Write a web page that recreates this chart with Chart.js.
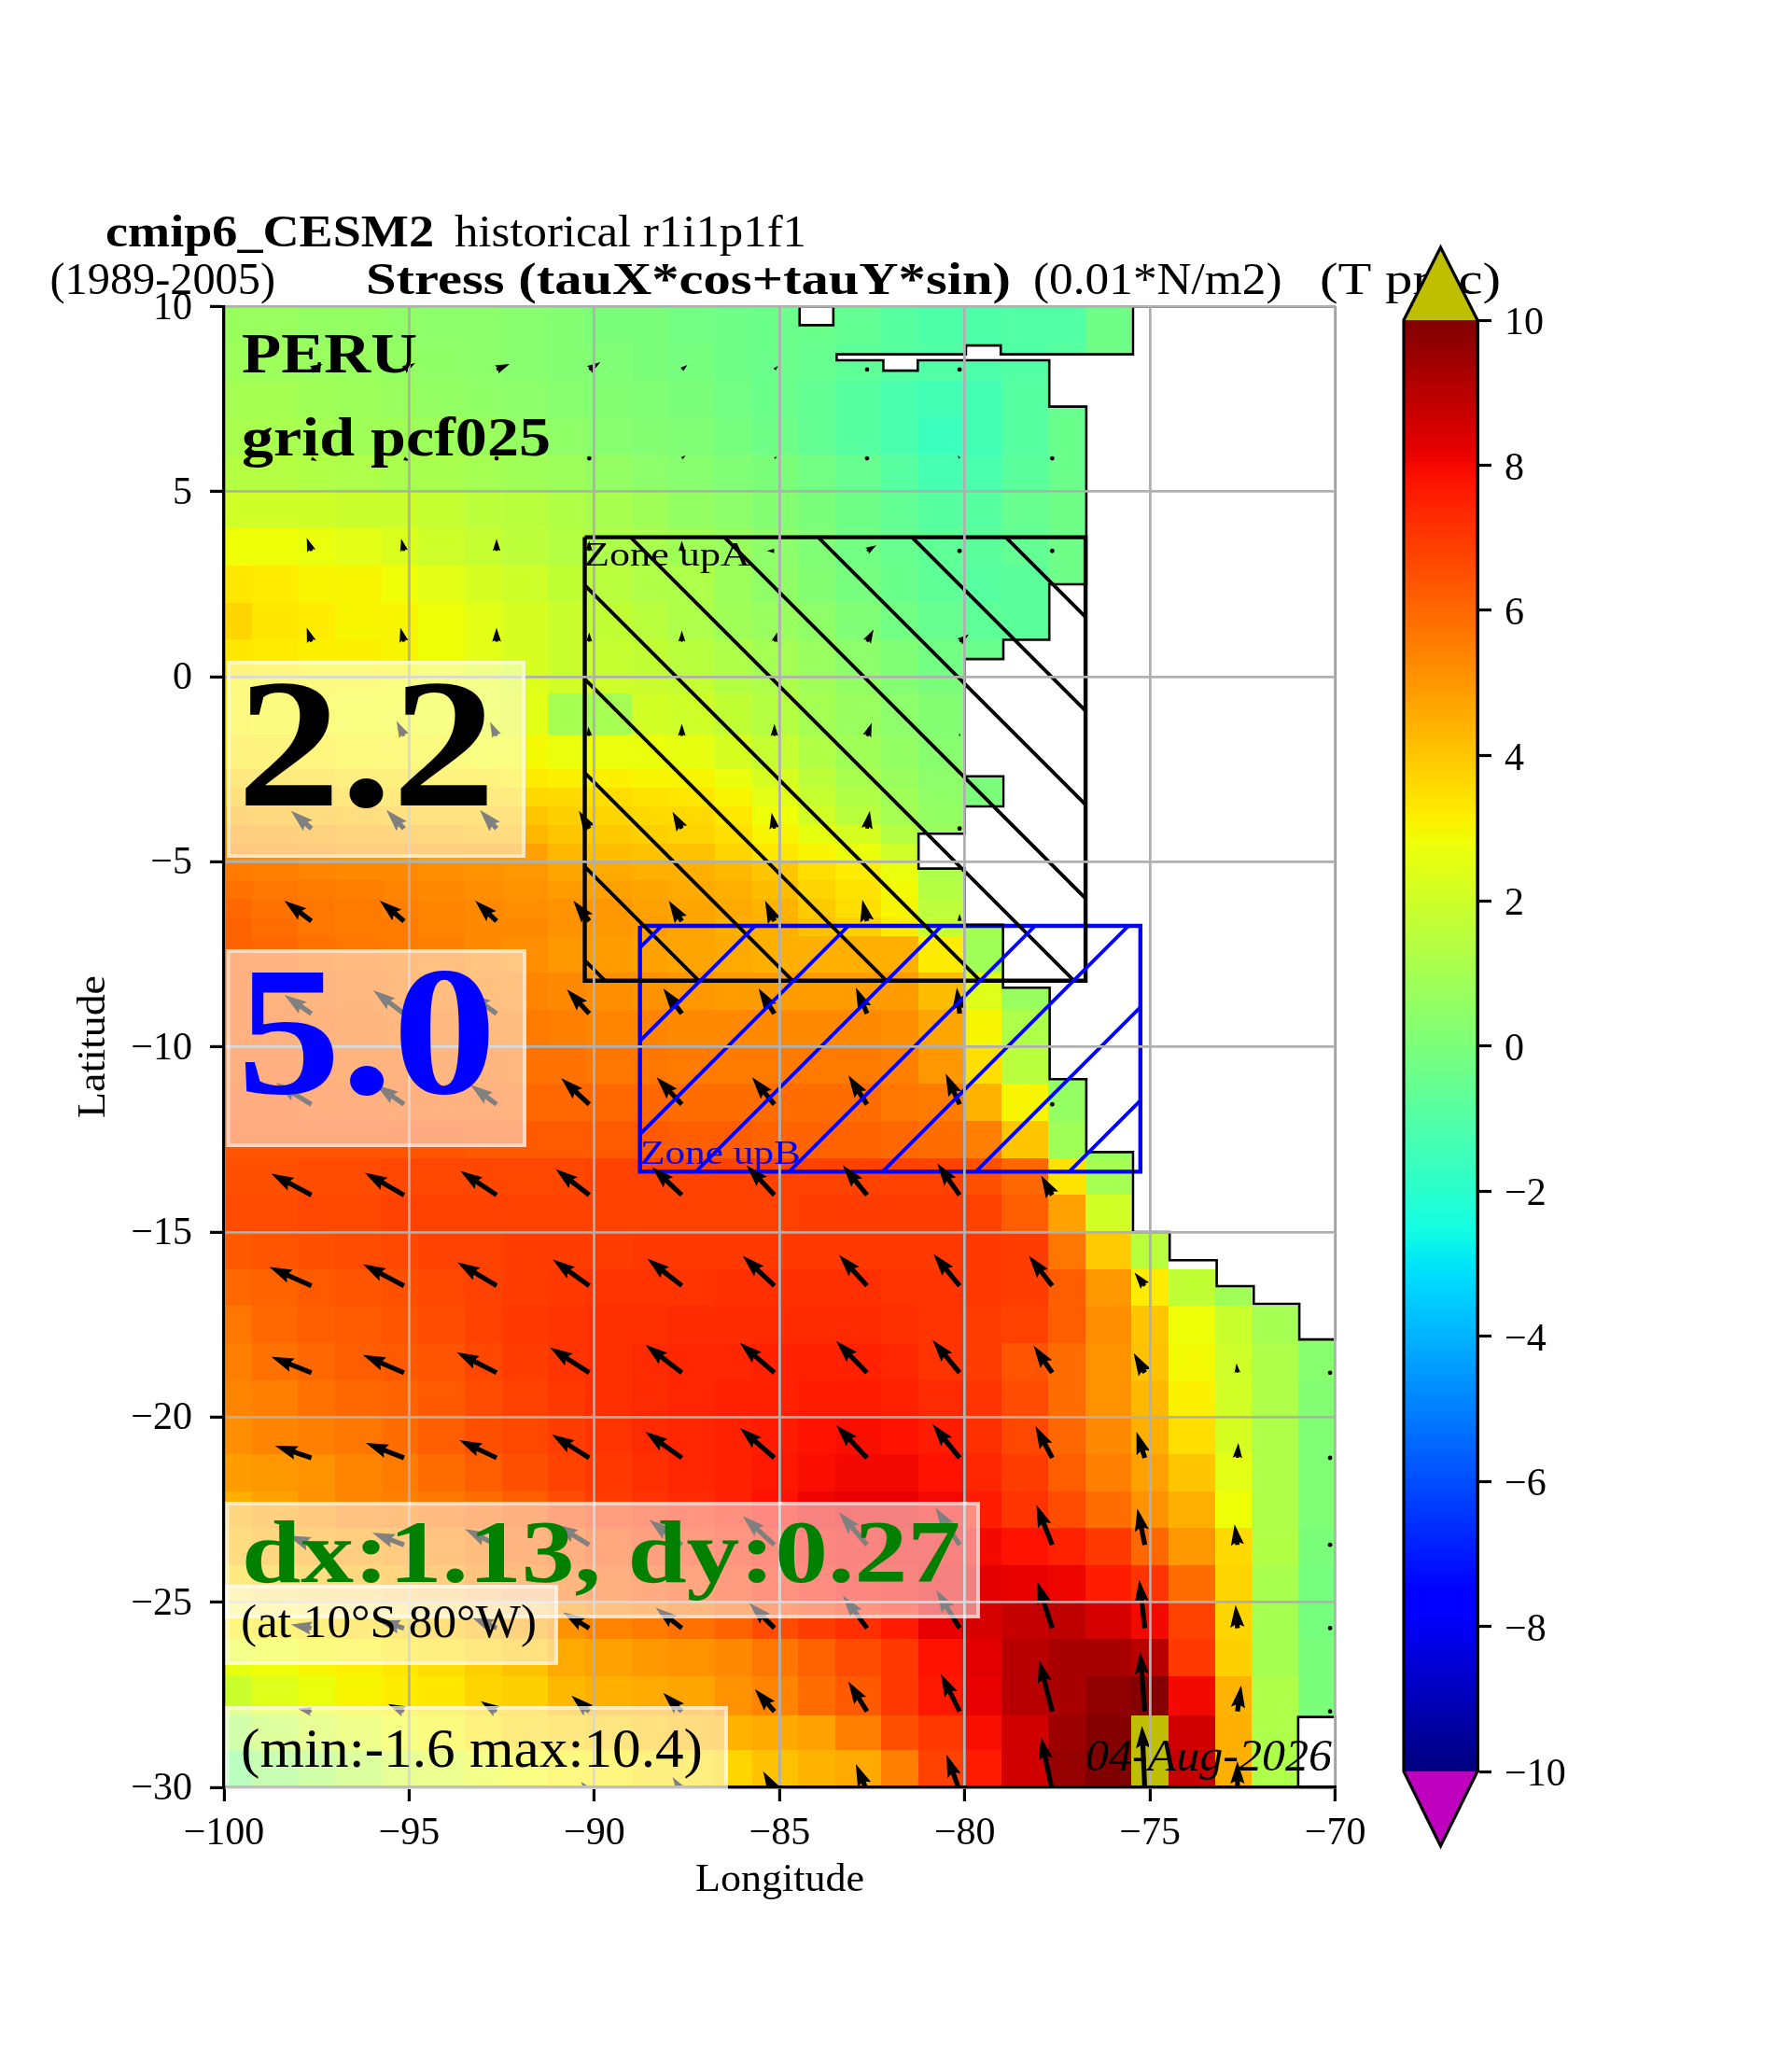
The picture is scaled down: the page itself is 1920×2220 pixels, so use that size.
<!DOCTYPE html>
<html><head><meta charset="utf-8">
<style>html,body{margin:0;padding:0;background:#fff;width:1920px;height:2220px;overflow:hidden}
canvas{position:absolute}</style>
<script src="https://cdn.jsdelivr.net/npm/chart.js@4/dist/chart.umd.js"></script>
</head><body>
<canvas id="map" width="1920" height="2220" style="left:0;top:0;width:1920px;height:2220px"></canvas>
<canvas id="cbar" width="300" height="1780" style="left:1480px;top:240px;width:300px;height:1780px"></canvas>
<script>
const xTicks=[-100,-95,-90,-85,-80,-75,-70];
const yTicks=[10,5,0,-5,-10,-15,-20,-25,-30];
const cbTicks=[10,8,6,4,2,0,-2,-4,-6,-8,-10];
const lonEdges=[-100,-99.25,-98,-97,-95.75,-94.75,-93.5,-92.5,-91.25,-90.25,-89,-88,-86.75,-85.75,-84.5,-83.5,-82.25,-81.25,-80,-79,-77.75,-76.75,-75.5,-74.5,-73.25,-72.25,-71,-70];
const latEdges=[10,9,8,7,6,5,4,3,2,1,0,-.45,-1.55,-2.5,-3,-3.5,-4,-4.5,-5,-5.5,-6,-6.5,-7,-8,-9,-10,-11,-12,-13,-14,-15,-16,-17,-18,-19,-20,-21,-22,-23,-24,-25,-26,-27,-28.05,-29,-30];
// Stress values per latitude band (north to south), west to east; cells past the end of a row are land
const cellValues=[
[.7,.7,.6,.6,.5,.4,.4,.3,.2,0,0,-.2,-.3,-.4,-.4,-.6,-.9,-1.1,-1.1,-1,-1,-.3],
[.8,.8,.7,.7,.6,.5,.4,.3,.2,.1,0,-.1,-.3,-.4,-.5,-.7,-.9,-1,-1.1,-1,-.9,-.3],
[1,1,.9,.8,.7,.6,.5,.4,.3,.2,.1,0,-.2,-.4,-.6,-.9,-1.2,-1.4,-1.4,-.9,-.5],
[1.1,1.1,1,.9,.9,.8,.7,.6,.5,.3,.2,.1,-.1,-.3,-.6,-.9,-1.2,-1.6,-1.4,-.9,-.4],
[1.4,1.4,1.3,1.2,1.1,1.1,1,.9,.8,.6,.4,.3,.1,0,-.2,-.5,-.9,-1.3,-1.2,-.8,-.4],
[2,2,2,1.9,1.9,1.8,1.6,1.5,1.3,1.1,.9,.6,.4,.2,0,-.3,-.6,-.9,-.9,-.5,-.3],
[2.8,2.8,2.7,2.5,2.3,2,1.8,1.6,1.4,1.2,1.1,.9,.7,.4,.1,-.2,-.5,-.7,-.8,-.6,-.3],
[3.3,3.2,3,3,2.8,2.5,2.2,2,1.7,1.5,1.3,1.2,.8,.5,.2,-.1,-.4,-.7,-.9,-.8,-.3],
[3.7,3.3,3.2,3,3,2.8,2.5,2.2,1.9,1.7,1.5,1.2,.9,.7,.5,.1,-.2,-.5,-.7,-.8],
[3.3,3.2,3.1,3.1,3,2.8,2.5,2.2,1.9,1.8,1.7,1.5,1.2,1,.7,.4,.1,-.2,-.4,-.5],
[3.1,3.1,3,3,2.9,2.8,2.6,2.4,2.1,2,1.9,1.8,1.4,1.2,.9,.6,.2,0],
[3.1,3,3,2.9,2.9,2.8,2.6,2.5,1,1,2.1,2,1.7,1.4,1,.7,.4,.2],
[3.3,3.3,3.2,3.1,3.1,3,2.9,2.9,2.7,2.7,2.7,2.6,2.2,1.8,1.3,.9,.6,.3],
[3.8,3.7,3.6,3.5,3.4,3.3,3.3,3.2,3.1,3.1,3,3,2.7,2.2,1.6,1.1,.7,.4,0],
[4.1,4,3.9,3.8,3.7,3.7,3.6,3.6,3.6,3.5,3.4,3.3,3,2.5,1.8,1.3,.9,.5,0],
[4.5,4.4,4.3,4.2,4.1,4,4,4,3.8,3.7,3.6,3.6,3.3,2.8,2.1,1.5,1,.6],
[4.9,4.8,4.7,4.6,4.5,4.4,4.3,4.3,4,3.9,3.8,3.7,3.5,3,2.6,2.2,1.4,.7],
[5.2,5.1,5,4.9,4.9,4.8,4.8,4.8,4.3,4.2,4.1,4.1,3.7,3.3,3,2.7,2,1],
[5.6,5.5,5.4,5.3,5.3,5.2,5.1,5,4.7,4.6,4.5,4.5,4.3,4,3.5,3.2,2.7,1.2],
[5.8,5.7,5.6,5.5,5.4,5.3,5.2,5.1,4.9,4.8,4.7,4.6,4.5,4.2,3.7,3.4,2.9,1.4],
[6,5.8,5.7,5.6,5.5,5.4,5.3,5.2,5.1,5,4.8,4.7,4.6,4.4,3.9,3.5,3,1.6],
[6.1,5.9,5.7,5.6,5.6,5.4,5.3,5.3,5.1,5,4.9,4.7,4.5,4.5,4.1,3.8,3.2,1.8,1],
[6.1,6,5.8,5.7,5.6,5.5,5.3,5.2,5,4.9,4.8,4.7,4.6,4.5,4.5,4.5,4.5,3.2,.9],
[6.1,6,5.9,5.8,5.7,5.6,5.5,5.4,5.3,5.2,5.1,5,4.9,4.9,4.9,4.9,4.9,4.2,2.4,.7],
[6.1,6.1,6,5.9,5.8,5.8,5.7,5.6,5.5,5.4,5.4,5.3,5.3,5.3,5.3,5.3,5.2,4.7,3,1.2],
[6.2,6.2,6.1,6,6,5.9,5.9,5.8,5.8,5.7,5.7,5.6,5.6,5.6,5.6,5.6,5.5,5,3.5,1.5,.5],
[6.3,6.3,6.2,6.2,6.1,6.1,6.1,6,6,6,6,5.9,5.9,5.9,5.9,5.9,5.7,5.6,4.4,3,.6],
[6.4,6.4,6.4,6.4,6.4,6.4,6.3,6.3,6.3,6.3,6.3,6.2,6.2,6.1,6.1,6.1,6,5.9,5.5,4,.9,.7],
[6.5,6.5,6.6,6.6,6.7,6.7,6.7,6.7,6.7,6.8,6.8,6.8,6.8,6.8,6.8,6.8,6.8,6.8,6.5,6,3.4,1],
[6.6,6.6,6.7,6.7,6.8,6.8,6.8,6.8,6.8,6.8,6.8,6.8,6.8,6.8,6.9,6.9,6.9,6.9,6.8,6.2,4.8,2.1],
[6.3,6.4,6.5,6.6,6.7,6.8,6.8,6.9,6.9,6.9,7,7,7,7,7,7,7,7,7,6.9,5.7,3.9,1.5],
[6,6.1,6.3,6.4,6.5,6.7,6.8,6.9,7,7.1,7.1,7.1,7.2,7.2,7.2,7.2,7.1,7.1,7,6.9,6.2,5,3.2,1.7,.9],
[5.7,6,6.2,6.3,6.4,6.6,6.8,7,7.1,7.2,7.2,7.3,7.3,7.3,7.3,7.3,7.2,7.1,6.9,6.8,6.2,5.2,4,2.8,1.9,1,.5],
[5.5,5.8,6,6.2,6.3,6.4,6.7,6.9,7.1,7.2,7.3,7.4,7.4,7.5,7.5,7.5,7.4,7.1,6.9,6.4,5.9,5.1,4.1,2.9,2,1.2,.3],
[5.4,5.5,5.8,6,6.1,6.3,6.6,6.8,7,7.2,7.3,7.4,7.5,7.5,7.6,7.6,7.5,7.3,7.1,6.6,5.9,5.1,4.3,3.1,2.1,1.2,.2],
[5.2,5.4,5.5,5.7,5.9,6.2,6.5,6.7,6.9,7.1,7.3,7.4,7.5,7.6,7.8,7.9,7.8,7.6,7.2,6.7,6,5.3,4.5,3.5,2.2,1.2,.1],
[4.9,5,5.1,5.4,5.6,5.9,6.2,6.5,6.8,7,7.2,7.4,7.5,7.7,7.9,8,8,7.8,7.4,6.9,6.2,5.5,4.8,4,2.5,1.2,.1],
[4.5,4.8,5.1,5.4,5.5,5.7,5.9,6.2,6.6,6.9,7.1,7.3,7.5,7.8,8.1,8.2,8.2,8,7.6,7.1,6.6,5.9,5.1,4.5,2.8,1.2,.1],
[4.3,4.5,4.7,4.9,5,5.3,5.6,5.9,6.2,6.5,6.8,7,7.3,7.6,7.9,8,8.1,8.1,8,7.8,7.5,7,6,5,3.6,1.3,0],
[3.7,4,4.2,4.4,4.6,4.9,5.3,5.6,5.9,6.2,6.4,6.6,7,7.4,7.7,7.9,8,8.2,8.3,8.2,8.1,7.6,7.1,5.9,3.7,1.1,-.1],
[3.2,3.3,3.5,3.6,3.8,4.1,4.4,4.7,5.1,5.4,5.6,5.8,6.1,6.6,6.9,7.2,7.6,8.2,8.5,8.8,8.9,8.5,8,6.8,3.7,1,-.1],
[2.6,2.8,3,3.1,3.3,3.5,3.8,4.1,4.6,4.8,5,5.1,5.3,5.7,6.1,6.6,7,7.8,8.3,9,9.3,9.3,9,7,3.8,1,0],
[1.9,2.4,2.7,3,3.2,3.3,3.7,3.8,4.3,4.5,4.6,4.7,5.1,5.4,5.9,6.3,7,7.7,8.2,9,9.3,9.7,9.9,8,4.4,1.2,0],
[1,1.6,2,2.4,2.8,3,3.3,3.6,3.8,3.9,4.1,4.3,4.4,4.6,4.8,5.5,6.5,7,7.9,8.6,9.5,9.9,10.4,8.6,4.5,1.2],
[-.1,.5,1,1.5,2,2.3,2.6,2.9,3.1,3.2,3.4,3.5,3.7,4.1,4.4,4.6,5.5,6.8,7.6,8.6,9.6,10,10.4,8.8,4.5,1.2]
];
// Land outlines [lon, lat]
const landMain=[[-70,10],[-75.46,10],[-75.46,8.71],[-79.03,8.71],[-79.03,8.95],[-79.97,8.95],[-79.97,8.71],[-83.46,8.71],[-83.46,8.55],[-82.2,8.55],[-82.2,8.27],[-81.27,8.27],[-81.27,8.55],[-77.72,8.55],[-77.72,7.3],[-76.72,7.3],[-76.72,2.5],[-77.72,2.5],[-77.72,1],[-78.96,1],[-78.96,.48],[-80,.48],[-80,-2.69],[-78.96,-2.69],[-78.96,-3.5],[-80,-3.5],[-80,-4.24],[-81.25,-4.24],[-81.25,-5.18],[-80,-5.18],[-80,-6.7],[-78.97,-6.7],[-78.97,-8.4],[-77.71,-8.4],[-77.71,-10.87],[-76.72,-10.87],[-76.72,-12.84],[-75.46,-12.84],[-75.46,-15],[-74.47,-15],[-74.47,-15.76],[-73.2,-15.76],[-73.2,-16.46],[-72.2,-16.46],[-72.2,-16.94],[-70.97,-16.94],[-70.97,-17.9],[-70,-17.9],[-70,10]];
const landSouth=[[-71,-30],[-71,-28.1],[-70,-28.1],[-70,-30],[-71,-30]];
const landIsland=[[-84.46,10],[-84.46,9.5],[-83.55,9.5],[-83.55,10],[-84.46,10]];
const zoneA=[[-90.26,3.77],[-76.74,3.77],[-76.74,-8.21],[-90.26,-8.21],[-90.26,3.77]];
const zoneB=[[-88.77,-6.73],[-75.26,-6.73],[-75.26,-13.37],[-88.77,-13.37],[-88.77,-6.73]];
// Wind stress vectors
const arrowLons=[-97.64,-95.14,-92.64,-90.14,-87.64,-85.14,-82.64,-80.14,-77.64,-75.14,-72.64,-70.14];
const arrowLats=[8.3,5.9,3.4,.95,-1.6,-4.1,-6.6,-9.1,-11.55,-14,-16.45,-18.8,-21.1,-23.45,-25.7,-27.95,-30.1];
const arrowU=[
[12,12,14,12,6,4,0,0],
[6,6,0,0,4,3,0,-2,0],
[-5,-3,0,0,0,-8,10,0,0],
[-5,-4,0,0,0,3,7,10],
[-5,-8,-7,-1,0,0,5,0],
[-22,-19,-18,-11,-10,-3,3,0],
[-29,-26,-23,-17,-14,-10,-5,0],
[-29,-33,-30,-24,-20,-17,-12,-3],
[-38,-30,-28,-30,-27,-24,-20,-15,0],
[-43,-42,-39,-36,-32,-30,-26,-24,-12],
[-45,-44,-42,-39,-37,-34,-30,-28,-25,-11],
[-43,-44,-43,-42,-39,-37,-33,-29,-20,-12,-1,0],
[-39,-41,-40,-40,-39,-37,-33,-29,-18,-9,1,0],
[-25,-34,-34,-36,-35,-34,-30,-26,-17,-8,-3,0],
[-22,-28,-27,-28,-28,-27,-26,-25,-16,-6,-2,0],
[-15,-17,-17,-19,-20,-21,-20,-20,-14,-5,4,0],
[-3,-4,-7,-9,-10,-12,-12,-14,-12,-3,0]
];
const arrowV=[
[6,7,6,8,5,4,0,0],
[-3,-3,0,0,3,2,0,3,0],
[14,13,13,11,11,0,6,0,0],
[15,15,15,10,12,10,13,8],
[15,16,15,10,13,13,14,3],
[19,20,20,19,18,17,19,0],
[22,22,22,22,22,22,23,8],
[20,25,22,26,27,27,28,28],
[23,21,21,28,29,29,31,33,0],
[23,24,26,28,30,32,32,34,21],
[20,23,25,28,29,32,33,34,32,14],
[17,19,22,27,30,32,34,35,29,21,10,0],
[13,16,19,25,28,32,35,36,34,28,16,0],
[10,13,17,22,27,31,35,40,43,39,22,0],
[4,8,12,17,22,27,35,41,50,52,25,0],
[3,8,11,17,20,24,32,40,55,64,28,0],
[1,1,5,10,15,21,29,39,58,70,32]
];
const SERIF='"Liberation Serif"';
const pct=(c,stops)=>{for(let i=1;i<stops.length;i++){if(c<=stops[i][0]){const a=stops[i-1],b=stops[i];return a[1]+(b[1]-a[1])*(c-a[0])/(b[0]-a[0]);}}return stops[stops.length-1][1];};
function jet(v){
  if(v>10)return 'rgb(191,191,0)';
  if(v<-10)return 'rgb(191,0,191)';
  const t=(v+10)/20;
  const r=pct(t,[[0,0],[.35,0],[.66,1],[.89,1],[1,.5]]);
  const g=pct(t,[[0,0],[.125,0],[.375,1],[.64,1],[.91,0],[1,0]]);
  const b=pct(t,[[0,.5],[.11,1],[.34,1],[.65,0],[1,0]]);
  return `rgb(${Math.round(r*255)},${Math.round(g*255)},${Math.round(b*255)})`;
}
function fit(ctx,text,x,y,w,font,color){
  ctx.save();ctx.font=font;ctx.fillStyle=color;ctx.textAlign='left';ctx.textBaseline='alphabetic';
  const m=ctx.measureText(text).width;ctx.translate(x,y);ctx.scale(w/m,1);ctx.fillText(text,0,0);ctx.restore();
}
const toPts=a=>a.map(p=>({x:p[0],y:p[1]}));
const heatPlugin={id:'heat',beforeDatasetsDraw(ch){
  const {ctx,chartArea:A,scales:{x,y}}=ch;
  ctx.save();ctx.beginPath();ctx.rect(A.left,A.top,A.width,A.height);ctx.clip();
  cellValues.forEach((row,j)=>row.forEach((v,i)=>{
    if(v==null)return;
    const x0=Math.round(x.getPixelForValue(lonEdges[i])),x1=Math.round(x.getPixelForValue(lonEdges[i+1]));
    const y0=Math.round(y.getPixelForValue(latEdges[j])),y1=Math.round(y.getPixelForValue(latEdges[j+1]));
    ctx.fillStyle=jet(v);ctx.fillRect(x0,y0,x1-x0,y1-y0);
  }));
  ctx.fillStyle='#fff';
  [landMain,landSouth,landIsland].forEach(p=>{ctx.beginPath();p.forEach((q,i)=>{const X=x.getPixelForValue(q[0]),Y=y.getPixelForValue(q[1]);i?ctx.lineTo(X,Y):ctx.moveTo(X,Y);});ctx.closePath();ctx.fill();});
  ctx.restore();
},afterDatasetsDraw(ch){
  const {ctx,chartArea:A,scales:{x,y}}=ch;
  ctx.save();ctx.beginPath();ctx.rect(A.left,A.top,A.width,A.height);ctx.clip();
  // quiver
  ctx.fillStyle='#000';
  const W=5.2,HL=24,HA=21.5,HW=7.6;
  arrowLats.forEach((lat,j)=>arrowLons.forEach((lon,i)=>{
    const u=arrowU[j][i],v=arrowV[j][i];
    if(u==null||v==null)return;
    const X=x.getPixelForValue(lon),Y=y.getPixelForValue(lat),L=Math.hypot(u,v);
    if(L<2.5){ctx.beginPath();ctx.arc(X,Y,2.4,0,7);ctx.fill();return;}
    const s=Math.min(1,L/HL),a=Math.atan2(-v,u);
    ctx.save();ctx.translate(X,Y);ctx.rotate(a);ctx.beginPath();
    const sh=W/2*s,hw=HW*s,ha=L-HA*s;
    ctx.moveTo(0,-sh);ctx.lineTo(Math.max(ha,0),-sh);ctx.lineTo(L-HL*s,-hw);ctx.lineTo(L,0);ctx.lineTo(L-HL*s,hw);ctx.lineTo(Math.max(ha,0),sh);ctx.lineTo(0,sh);ctx.closePath();ctx.fill();ctx.restore();
  }));
  ctx.restore();
  // hatching
  const hatch=(zone,color,sign,c0,step)=>{
    const Xs=zone.map(p=>x.getPixelForValue(p[0])),Ys=zone.map(p=>y.getPixelForValue(p[1]));
    const l=Math.min(...Xs),r=Math.max(...Xs),t=Math.min(...Ys),b=Math.max(...Ys);
    ctx.save();ctx.beginPath();ctx.rect(l,t,r-l,b-t);ctx.clip();ctx.strokeStyle=color;ctx.lineWidth=3.8;ctx.beginPath();
    for(let k=-40;k<=40;k++){const c=c0+k*step;
      if(sign>0){ctx.moveTo(0,c);ctx.lineTo(1920,1920+c);}
      else{ctx.moveTo(0,c);ctx.lineTo(1920,c-1920);}
    }
    ctx.stroke();ctx.restore();
  };
  hatch(zoneA,'#000',1,-502,100.5);
  hatch(zoneB,'#00f',-1,2001,100);
}};
const overlayPlugin={id:'overlay',afterDraw(ch){
  const ctx=ch.ctx;
  const R=w=>`${w} 48px ${SERIF}`;
  fit(ctx,'cmip6_CESM2',113,264,352,R('bold'),'#000');
  fit(ctx,'historical r1i1p1f1',487,264,377,R(''),'#000');
  fit(ctx,'(1989-2005)',53.5,315,241.5,R(''),'#000');
  fit(ctx,'Stress (tauX*cos+tauY*sin)',392,315,691,R('bold'),'#000');
  fit(ctx,'(0.01*N/m2)',1107,315,266.5,R(''),'#000');
  fit(ctx,'(T proc)',1414,315,194,R(''),'#000');
  fit(ctx,'Zone upA',626,605.6,178,`36px ${SERIF}`,'#000');
  fit(ctx,'Zone upB',686,1247,172,`36px ${SERIF}`,'#00f');
  fit(ctx,'PERU',259,399,188,`bold 62px ${SERIF}`,'#000');
  fit(ctx,'grid pcf025',259,488,331,`bold 60px ${SERIF}`,'#000');
  const box=(l,t,r,b)=>{ctx.fillStyle='rgba(255,255,255,.5)';ctx.fillRect(l,t,r-l,b-t);ctx.strokeStyle='rgba(255,255,255,.5)';ctx.lineWidth=4;ctx.strokeRect(l+2,t+2,r-l-4,b-t-4);};
  box(243,708,563,919);
  fit(ctx,'2.2',254,863,277,`bold 197px ${SERIF}`,'#000');
  box(242.5,1017,564,1229);
  fit(ctx,'5.0',254,1171,278,`bold 197px ${SERIF}`,'#00f');
  box(241.5,1609,1050,1734);
  fit(ctx,'dx:1.13, dy:0.27',259,1695,770,`bold 96px ${SERIF}`,'#008000');
  box(241.5,1698,598,1784);
  fit(ctx,'(at 10°S 80°W)',258,1754,317,`50px ${SERIF}`,'#000');
  box(241.5,1828,780,1917);
  fit(ctx,'(min:-1.6 max:10.4)',258,1892.7,495,`60px ${SERIF}`,'#000');
  fit(ctx,'04-Aug-2026',1163,1897,264,`italic 48px ${SERIF}`,'#000');
  fit(ctx,'Longitude',745,2026,181,`42px ${SERIF}`,'#000');
  ctx.save();ctx.translate(112,1198);ctx.rotate(-Math.PI/2);fit(ctx,'Latitude',0,0,153,`42px ${SERIF}`,'#000');ctx.restore();
}};
const lineDs=(label,data,color,w)=>({label,data:toPts(data),type:'scatter',showLine:true,borderColor:color,borderWidth:w,pointRadius:0,fill:false,tension:0,clip:false});
const tails=[];arrowLats.forEach(lat=>arrowLons.forEach(lon=>tails.push({x:lon,y:lat})));
const tickFmt=v=>String(v).replace('-','\u2212');
new Chart(document.getElementById('map'),{
  type:'scatter',
  data:{datasets:[
    lineDs('coast',landMain,'#000',2.6),
    lineDs('coast south',landSouth,'#000',2.6),
    lineDs('island',landIsland,'#000',2.6),
    lineDs('Zone upA',zoneA,'#000',4.4),
    lineDs('Zone upB',zoneB,'#00f',4.4),
    {label:'stress vectors',data:tails,pointRadius:0}
  ]},
  options:{
    responsive:false,animation:false,devicePixelRatio:1,
    layout:{padding:{top:328.5,left:0,right:1920-1430.6,bottom:0}},
    plugins:{legend:{display:false},tooltip:{enabled:false}},
    scales:{
      x:{type:'linear',min:-100,max:-70,afterFit(s){s.height=2220-1915;},afterBuildTicks(s){s.ticks=xTicks.map(v=>({value:v}));},
        grid:{color:'#b0b0b0',lineWidth:2.8,z:1,tickColor:'#000',tickWidth:3.2,tickLength:15},
        border:{color:'#000',width:3.2,z:2},
        ticks:{font:{family:'Liberation Serif',size:42},color:'#000',padding:10,maxRotation:0,callback:tickFmt}},
      y:{type:'linear',min:-30,max:10,afterFit(s){s.width=240;},afterBuildTicks(s){s.ticks=yTicks.map(v=>({value:v}));},
        grid:{color:'#b0b0b0',lineWidth:2.8,z:1,tickColor:'#000',tickWidth:3.2,tickLength:15},
        border:{color:'#000',width:3.2,z:2},
        ticks:{font:{family:'Liberation Serif',size:42},color:'#000',padding:19,labelOffset:2,callback:tickFmt}}
    }
  },
  plugins:[heatPlugin,overlayPlugin]
});
const cbPlugin={id:'cb',beforeDatasetsDraw(ch){
  const {ctx,chartArea:A,scales:{y}}=ch;
  const n=256;
  for(let i=0;i<n;i++){const lo=-10+20*i/n,hi=-10+20*(i+1)/n;
    const y0=Math.floor(y.getPixelForValue(hi)),y1=Math.ceil(y.getPixelForValue(lo));
    ctx.fillStyle=jet((lo+hi)/2);ctx.fillRect(A.left,y0,A.width,y1-y0);}
},afterDraw(ch){
  const {ctx,chartArea:A}=ch;const mid=(A.left+A.right)/2,tipT=A.top-78,tipB=A.bottom+80;
  ctx.fillStyle=jet(11);ctx.beginPath();ctx.moveTo(A.left,A.top);ctx.lineTo(mid,tipT);ctx.lineTo(A.right,A.top);ctx.closePath();ctx.fill();
  ctx.fillStyle=jet(-11);ctx.beginPath();ctx.moveTo(A.left,A.bottom);ctx.lineTo(mid,tipB);ctx.lineTo(A.right,A.bottom);ctx.closePath();ctx.fill();
  ctx.strokeStyle='#000';ctx.lineWidth=3.2;ctx.lineJoin='miter';ctx.beginPath();
  ctx.moveTo(A.left,A.top);ctx.lineTo(mid,tipT);ctx.lineTo(A.right,A.top);ctx.lineTo(A.right,A.bottom);ctx.lineTo(mid,tipB);ctx.lineTo(A.left,A.bottom);ctx.closePath();ctx.stroke();
}};
new Chart(document.getElementById('cbar'),{
  type:'scatter',
  data:{datasets:[{label:'colorbar',data:cbTicks.map(v=>({x:.5,y:v})),pointRadius:0}]},
  options:{
    responsive:false,animation:false,devicePixelRatio:1,
    layout:{padding:{top:103,left:24,right:0,bottom:122}},
    plugins:{legend:{display:false},tooltip:{enabled:false}},
    scales:{
      x:{type:'linear',display:false,min:0,max:1},
      y:{type:'linear',position:'right',min:-10,max:10,afterFit(s){s.width=197;},afterBuildTicks(s){s.ticks=cbTicks.map(v=>({value:v}));},
        grid:{drawOnChartArea:false,tickColor:'#000',tickWidth:3.2,tickLength:15,z:1},
        border:{color:'#000',width:3,z:2},
        ticks:{font:{family:'Liberation Serif',size:42},color:'#000',padding:14,labelOffset:4,callback:tickFmt}}
    }
  },
  plugins:[cbPlugin]
});
</script>
</body></html>
